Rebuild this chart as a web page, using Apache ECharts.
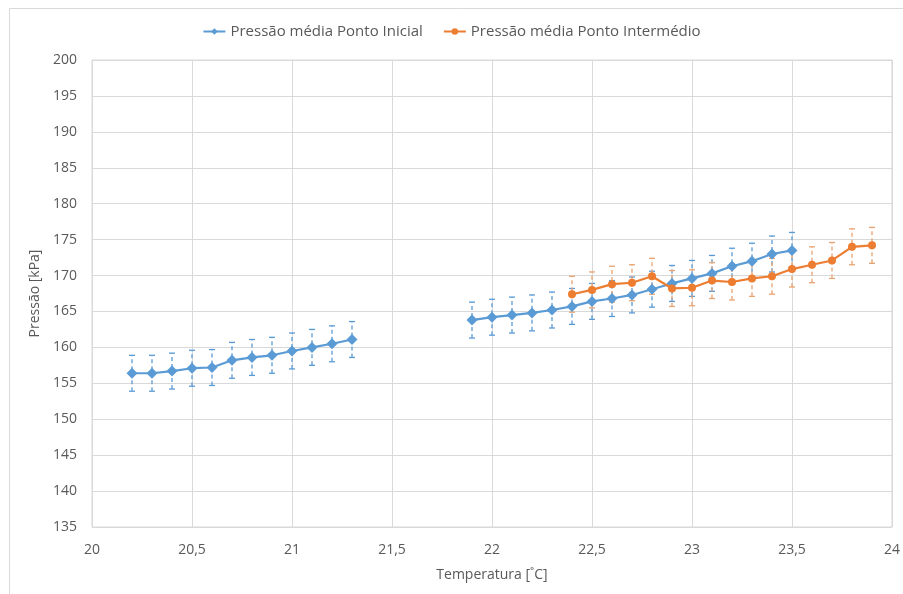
<!DOCTYPE html>
<html>
<head>
<meta charset="utf-8">
<script src="https://cdn.jsdelivr.net/npm/echarts@6/dist/echarts.min.js"></script>
<style>html,body{margin:0;padding:0;background:#fff}#c{width:903px;height:594px}</style>
</head>
<body>
<div id="c"></div>
<script>
// Pressão média Ponto Inicial (two measurement runs)
var tempInicialA = [20.2, 20.3, 20.4, 20.5, 20.6, 20.7, 20.8, 20.9, 21.0, 21.1, 21.2, 21.3];
var presInicialA = [156.4, 156.4, 156.7, 157.1, 157.2, 158.2, 158.6, 158.9, 159.5, 160.0, 160.5, 161.1];
var tempInicialB = [21.9, 22.0, 22.1, 22.2, 22.3, 22.4, 22.5, 22.6, 22.7, 22.8, 22.9, 23.0, 23.1, 23.2, 23.3, 23.4, 23.5];
var presInicialB = [163.8, 164.2, 164.5, 164.8, 165.2, 165.7, 166.4, 166.8, 167.3, 168.1, 168.9, 169.6, 170.3, 171.3, 172.0, 173.0, 173.5];
// Pressão média Ponto Intermédio
var tempIntermedio = [22.4, 22.5, 22.6, 22.7, 22.8, 22.9, 23.0, 23.1, 23.2, 23.3, 23.4, 23.5, 23.6, 23.7, 23.8, 23.9];
var presIntermedio = [167.4, 168.0, 168.8, 169.0, 169.9, 168.2, 168.3, 169.3, 169.1, 169.6, 169.9, 170.9, 171.5, 172.1, 174.0, 174.2];
// error bar half-widths (kPa)
var errInicial = 2.5;
var errIntermedio = 2.5;
var xTicks = ['20', '20,5', '21', '21,5', '22', '22,5', '23', '23,5', '24'];

var BLUE = '#5B9BD5', ORANGE = '#ED7D31', TXT = '#595959', GRID = '#d9d9d9';
var FONT = '"Open Sans", "Noto Sans", sans-serif';

function pairs(xs, ys) { return xs.map(function (x, i) { return [x, ys[i]]; }); }
var blueLine = pairs(tempInicialA, presInicialA).concat([['-', '-']]).concat(pairs(tempInicialB, presInicialB));
var blueErr = pairs(tempInicialA, presInicialA).concat(pairs(tempInicialB, presInicialB)).map(function (p) { return [p[0], p[1] - errInicial, p[1] + errInicial]; });
var orangeLine = pairs(tempIntermedio, presIntermedio);
var orangeErr = orangeLine.map(function (p) { return [p[0], p[1] - errIntermedio, p[1] + errIntermedio]; });

function errRender(color, opacity) {
  return function (params, api) {
    var x = api.value(0);
    var lo = api.coord([x, api.value(1)]);
    var hi = api.coord([x, api.value(2)]);
    var w = 3;
    var st = { stroke: color, lineWidth: 1.3, opacity: opacity };
    var dash = { stroke: color, lineWidth: 1.3, lineDash: [4, 3], opacity: opacity };
    return {
      type: 'group',
      children: [
        { type: 'line', shape: { x1: lo[0], y1: lo[1], x2: hi[0], y2: hi[1] }, style: dash },
        { type: 'line', shape: { x1: lo[0] - w, y1: lo[1], x2: lo[0] + w, y2: lo[1] }, style: st },
        { type: 'line', shape: { x1: hi[0] - w, y1: hi[1], x2: hi[0] + w, y2: hi[1] }, style: st }
      ]
    };
  };
}

var chart = echarts.init(document.getElementById('c'), null, { renderer: 'canvas' });
chart.setOption({
  animation: false,
  textStyle: { fontFamily: FONT },
  graphic: [{ type: 'rect', shape: { x: 9.5, y: 8.5, width: 910, height: 600 }, style: { fill: 'none', stroke: GRID, lineWidth: 1 }, silent: true }],
  legend: {
    top: 19, left: 'center', itemGap: 20, itemWidth: 22, itemHeight: 8,
    textStyle: { color: TXT, fontSize: 15, fontFamily: FONT },
    data: ['Pressão média Ponto Inicial', 'Pressão média Ponto Intermédio']
  },
  grid: { left: 92, right: 10, top: 60, bottom: 67, show: true, borderColor: GRID, borderWidth: 1 },
  xAxis: {
    type: 'value', min: 20, max: 24, interval: 0.5,
    name: 'Temperatura [˚C]', nameLocation: 'middle', nameGap: 41,
    nameTextStyle: { color: TXT, fontSize: 14 },
    axisLine: { show: false }, axisTick: { show: false },
    axisLabel: { color: TXT, fontSize: 14, margin: 16, formatter: function (v) { return xTicks[Math.round((v - 20) / 0.5)]; } },
    splitLine: { lineStyle: { color: GRID, width: 1 } }
  },
  yAxis: {
    type: 'value', min: 135, max: 200, interval: 5,
    name: 'Pressão [kPa]', nameLocation: 'middle', nameGap: 48,
    nameTextStyle: { color: TXT, fontSize: 14 },
    axisLine: { show: false }, axisTick: { show: false },
    axisLabel: { color: TXT, fontSize: 14, margin: 15 },
    splitLine: { lineStyle: { color: GRID, width: 1 } }
  },
  series: [
    { name: 'err1', type: 'custom', data: blueErr, renderItem: errRender(BLUE, 1), z: 1, silent: true },
    { name: 'err2', type: 'custom', data: orangeErr, renderItem: errRender('#E9A373', 1), z: 1, silent: true },
    {
      name: 'Pressão média Ponto Inicial', type: 'line', data: blueLine, connectNulls: false,
      symbol: 'diamond', symbolSize: 11, itemStyle: { color: BLUE }, lineStyle: { color: BLUE, width: 2.2 }, z: 3
    },
    {
      name: 'Pressão média Ponto Intermédio', type: 'line', data: orangeLine,
      symbol: 'circle', symbolSize: 8, itemStyle: { color: ORANGE }, lineStyle: { color: ORANGE, width: 2.2 }, z: 4
    }
  ]
});
</script>
</body>
</html>
